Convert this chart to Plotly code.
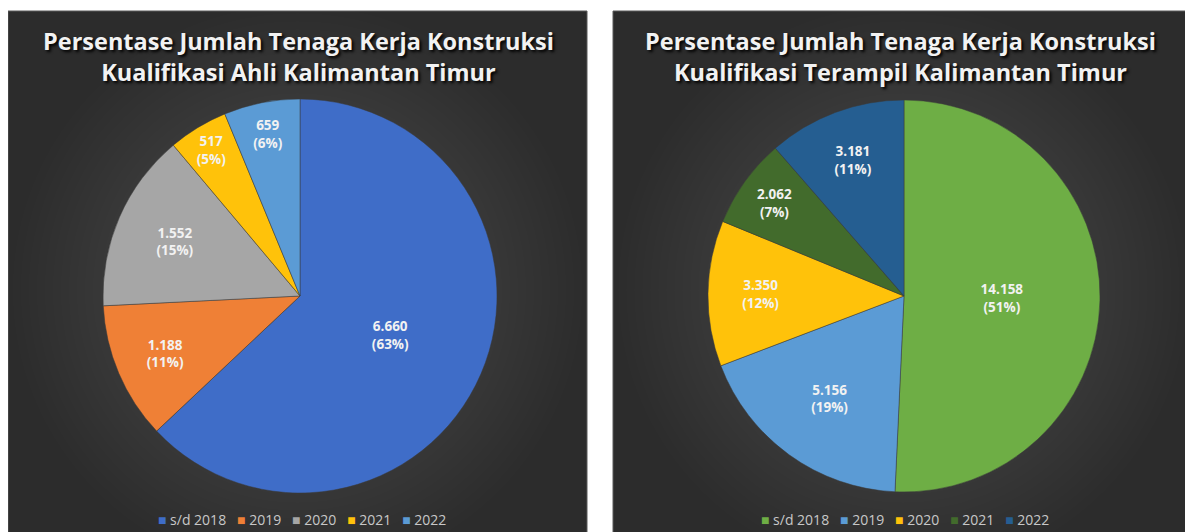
import plotly.graph_objects as go

OFF = 8                      # browser body margin
W, H = 1193 - OFF, 532 - OFF

labels = ["s/d 2018", "2019", "2020", "2021", "2022"]

ahli_values = [6660, 1188, 1552, 517, 659]
ahli_pct = ["63%", "11%", "15%", "5%", "6%"]
ahli_colors = ["#3f6dc8", "#ef8036", "#a6a6a6", "#ffc20a", "#5b9bd5"]

terampil_values = [14158, 5156, 3350, 2062, 3181]
terampil_pct = ["51%", "19%", "12%", "7%", "11%"]
terampil_colors = ["#6eae45", "#5b9bd5", "#ffc20a", "#426b2c", "#255e91"]

title_ahli = "Persentase Jumlah Tenaga Kerja Konstruksi<br>Kualifikasi Ahli Kalimantan Timur"
title_terampil = "Persentase Jumlah Tenaga Kerja Konstruksi<br>Kualifikasi Terampil Kalimantan Timur"

FONT = "Open Sans"


def px_x(p):
    return (p - OFF) / W


def px_y(p):
    return 1 - (p - OFF) / H


def fmt(v):
    return f"{v:,}".replace(",", ".")


fig = go.Figure()

for vals, pcts, cols, dom in [
    (ahli_values, ahli_pct, ahli_colors, (103, 497, 99, 493)),
    (terampil_values, terampil_pct, terampil_colors, (708, 1100, 100, 492)),
]:
    fig.add_trace(go.Pie(
        labels=labels, values=vals,
        text=[f"{fmt(v)}<br>({p})" for v, p in zip(vals, pcts)],
        textinfo="text", textposition="inside", insidetextorientation="horizontal",
        sort=False, direction="clockwise", rotation=0,
        marker=dict(colors=cols, line=dict(color="#3a3a3a", width=0.5)),
        insidetextfont=dict(color="#f2f2f2", size=13.5, family=FONT, weight="bold"),
        domain=dict(x=[px_x(dom[0]), px_x(dom[1])], y=[px_y(dom[3]), px_y(dom[2])]),
        showlegend=False, hoverinfo="label+value+percent",
    ))

shapes = []
for x0, x1 in [(8, 587), (613, 1200)]:
    shapes.append(dict(type="rect", xref="paper", yref="paper",
                       x0=px_x(x0), x1=px_x(x1), y0=-0.05, y1=px_y(11),
                       fillcolor="#2c2c2c", line=dict(color="#5a5a5a", width=1),
                       layer="below"))
    cx = (x0 + min(x1, 1193)) / 2
    for i in range(28):
        r = 285 - i * 8
        shapes.append(dict(type="circle", xref="paper", yref="paper",
                           x0=px_x(cx - r), x1=px_x(cx + r),
                           y0=px_y(290 + r), y1=px_y(290 - r),
                           fillcolor="rgba(255,255,255,0.0075)", line=dict(width=0),
                           layer="below"))

annotations = []
for txt, cx in [(title_ahli, 298), (title_terampil, 901)]:
    annotations.append(dict(
        text=txt, x=px_x(cx), y=px_y(56), xref="paper", yref="paper",
        xanchor="center", yanchor="middle", showarrow=False,
        font=dict(family=FONT, size=23.5, color="#f2f2f2", weight="bold",
                  shadow="2px 2px 3px #000000"),
        align="center",
    ))

# legends drawn as text rows under each pie
for cols, cx in [(ahli_colors, 302), (terampil_colors, 905)]:
    parts = [f"<span style='color:{c}'>■</span> {lab}"
             for c, lab in zip(cols, labels)]
    annotations.append(dict(
        text="   ".join(parts), x=px_x(cx), y=px_y(519), xref="paper", yref="paper",
        xanchor="center", yanchor="middle", showarrow=False,
        font=dict(family=FONT, size=14, color="#c8c8c8"),
    ))

fig.update_layout(
    width=W, height=H,
    margin=dict(l=0, r=0, t=0, b=0),
    paper_bgcolor="white", plot_bgcolor="white",
    shapes=shapes,
    annotations=annotations,
    uniformtext=dict(minsize=13, mode="show"),
)

fig.write_html("out.html")
